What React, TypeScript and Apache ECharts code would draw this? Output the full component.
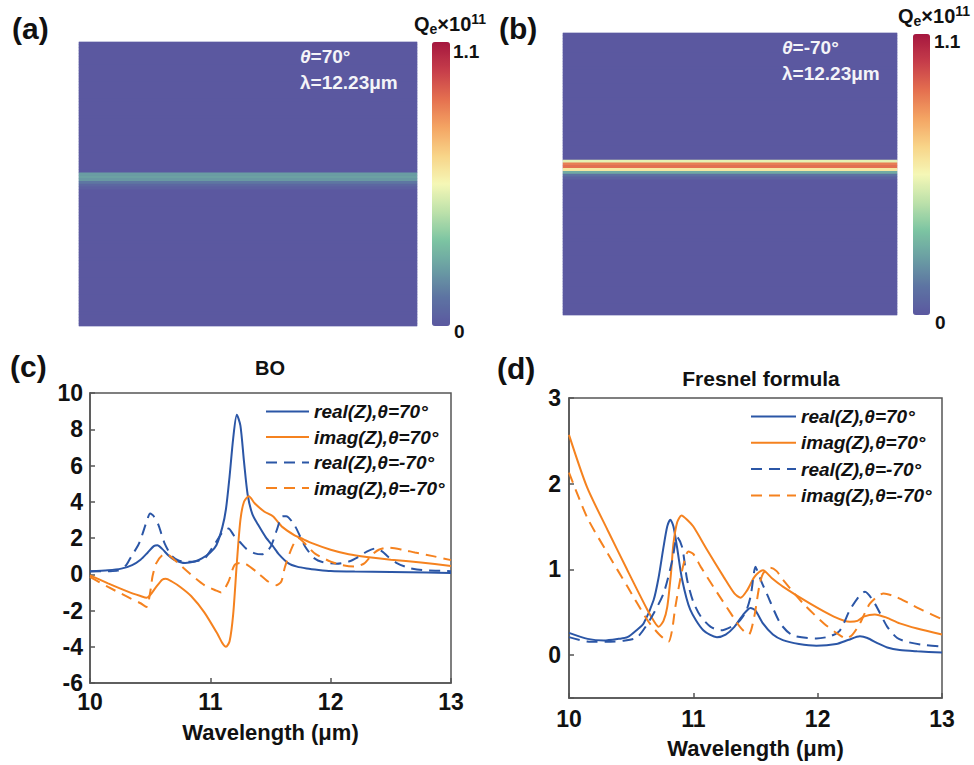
import React, { useEffect, useRef } from 'react';
import * as echarts from 'echarts';

const FONT = '"Liberation Sans", Arial, sans-serif';
const BLUE = '#2b56a6';
const ORANGE = '#f5821f';
const DASH = [11, 7];

const legendNames = ['real(Z),θ=70°', 'imag(Z),θ=70°', 'real(Z),θ=-70°', 'imag(Z),θ=-70°'];

// heatmap rows (top to bottom), value in units of 1e11
const heatRows = 100;
const bandA: number[][] = [[46, 0.22], [47, 0.23], [48, 0.21], [49, 0.12], [50, 0.06], [51, 0.03]];
const bandB: number[][] = [[45, 0.52], [46, 0.85], [47, 0.88], [48, 0.6], [49, 0.26], [50, 0.1], [51, 0.04]];
const qeMin = 0;
const qeMax = 1.1;
const colorbarColors = ['#5b58a0', '#5d73a2', '#6a9da3', '#7cc4a2', '#bce1aa', '#f5f7b6', '#f8d488', '#f4a463', '#e46f4f', '#c63d4a', '#a5173f'];

// (c) BO
const boReal70 = [[10.0,0.17],[10.15,0.22],[10.26,0.31],[10.35,0.5],[10.42,0.8],[10.48,1.2],[10.53,1.55],[10.56,1.6],[10.6,1.4],[10.65,1.05],[10.7,0.8],[10.79,0.62],[10.87,0.7],[10.93,0.87],[11.0,1.2],[11.05,1.6],[11.1,2.6],[11.13,3.6],[11.16,5.4],[11.19,7.5],[11.22,8.8],[11.25,8.2],[11.28,6.2],[11.31,4.4],[11.35,3.3],[11.4,2.7],[11.46,2.05],[11.52,1.55],[11.57,1.1],[11.65,0.6],[11.72,0.42],[11.8,0.32],[11.9,0.24],[12.0,0.18],[12.2,0.15],[12.5,0.13],[12.8,0.1],[13.0,0.07]];
const boImag70 = [[10.0,-0.06],[10.15,-0.5],[10.32,-0.97],[10.42,-1.2],[10.47,-1.3],[10.5,-1.15],[10.55,-0.7],[10.6,-0.3],[10.63,-0.25],[10.68,-0.4],[10.75,-0.7],[10.84,-1.2],[10.95,-2.1],[11.06,-3.3],[11.1,-3.8],[11.13,-4.0],[11.16,-3.7],[11.19,-2.2],[11.22,0.6],[11.25,3.0],[11.28,4.0],[11.32,4.3],[11.37,3.9],[11.45,3.45],[11.52,3.2],[11.6,2.6],[11.7,2.15],[11.75,2.0],[11.85,1.7],[12.0,1.35],[12.15,1.1],[12.3,0.95],[12.5,0.8],[12.75,0.65],[13.0,0.46]];
const boRealM70 = [[10.0,0.15],[10.15,0.17],[10.23,0.2],[10.3,0.5],[10.34,0.95],[10.4,1.6],[10.43,2.1],[10.47,2.9],[10.5,3.35],[10.53,3.2],[10.57,2.7],[10.62,1.7],[10.68,1.0],[10.74,0.75],[10.8,0.68],[10.88,0.72],[10.95,0.85],[11.04,1.7],[11.1,2.3],[11.15,2.52],[11.2,2.1],[11.25,1.75],[11.3,1.4],[11.37,1.15],[11.43,1.1],[11.5,1.5],[11.55,2.4],[11.6,3.2],[11.63,3.2],[11.7,2.7],[11.79,1.5],[11.87,0.85],[11.93,0.68],[12.05,0.58],[12.15,0.7],[12.23,0.95],[12.3,1.25],[12.37,1.42],[12.43,1.25],[12.48,0.95],[12.55,0.62],[12.65,0.35],[12.76,0.23],[13.0,0.17]];
const boImagM70 = [[10.0,-0.15],[10.15,-0.7],[10.34,-1.34],[10.42,-1.6],[10.47,-1.8],[10.5,-1.0],[10.52,-0.1],[10.55,0.6],[10.6,1.05],[10.64,1.1],[10.7,0.8],[10.81,0.15],[10.95,-0.6],[11.05,-0.9],[11.09,-1.0],[11.15,-0.42],[11.2,0.5],[11.25,0.62],[11.3,0.55],[11.4,0.05],[11.48,-0.4],[11.55,-0.6],[11.59,-0.4],[11.62,0.4],[11.68,1.5],[11.73,2.0],[11.8,1.6],[11.87,1.14],[12.0,0.7],[12.1,0.5],[12.2,0.42],[12.28,0.6],[12.34,1.05],[12.4,1.35],[12.48,1.47],[12.6,1.35],[12.7,1.2],[12.85,1.0],[13.0,0.78]];

// (d) Fresnel formula
const frReal70 = [[10.0,0.26],[10.15,0.19],[10.28,0.17],[10.4,0.19],[10.47,0.21],[10.55,0.3],[10.6,0.37],[10.68,0.64],[10.72,0.9],[10.76,1.26],[10.79,1.5],[10.815,1.58],[10.84,1.5],[10.87,1.25],[10.91,0.88],[10.975,0.53],[11.08,0.29],[11.19,0.21],[11.26,0.24],[11.33,0.33],[11.4,0.47],[11.46,0.55],[11.5,0.52],[11.56,0.37],[11.64,0.24],[11.72,0.175],[11.85,0.13],[11.99,0.11],[12.15,0.13],[12.25,0.18],[12.34,0.22],[12.4,0.2],[12.48,0.14],[12.56,0.09],[12.66,0.06],[12.8,0.045],[13.0,0.03]];
const frImag70 = [[10.0,2.57],[10.145,1.96],[10.31,1.46],[10.47,0.99],[10.63,0.53],[10.69,0.38],[10.72,0.33],[10.76,0.4],[10.79,0.56],[10.82,0.95],[10.84,1.3],[10.87,1.55],[10.905,1.63],[10.95,1.58],[11.0,1.5],[11.11,1.23],[11.245,0.91],[11.33,0.72],[11.38,0.67],[11.43,0.75],[11.49,0.91],[11.53,0.97],[11.56,0.99],[11.63,0.9],[11.72,0.8],[11.94,0.6],[12.13,0.45],[12.26,0.39],[12.32,0.4],[12.37,0.45],[12.46,0.475],[12.55,0.44],[12.66,0.37],[12.8,0.31],[13.0,0.24]];
const frRealM70 = [[10.0,0.21],[10.145,0.16],[10.3,0.155],[10.45,0.17],[10.55,0.21],[10.65,0.41],[10.76,0.72],[10.83,1.1],[10.87,1.38],[10.91,1.26],[10.95,0.88],[11.0,0.62],[11.06,0.45],[11.14,0.33],[11.22,0.29],[11.35,0.37],[11.42,0.5],[11.46,0.68],[11.5,1.03],[11.51,1.0],[11.55,0.85],[11.59,0.72],[11.7,0.37],[11.8,0.23],[11.99,0.195],[12.1,0.22],[12.18,0.29],[12.26,0.53],[12.34,0.7],[12.38,0.74],[12.46,0.6],[12.56,0.33],[12.64,0.2],[12.72,0.155],[12.85,0.12],[13.0,0.1]];
const frImagM70 = [[10.0,2.13],[10.145,1.61],[10.31,1.19],[10.47,0.8],[10.63,0.41],[10.72,0.25],[10.8,0.155],[10.83,0.3],[10.855,0.56],[10.91,0.99],[10.96,1.21],[11.0,1.18],[11.06,1.03],[11.16,0.8],[11.3,0.49],[11.38,0.32],[11.445,0.24],[11.49,0.45],[11.53,0.8],[11.56,0.95],[11.62,1.02],[11.67,0.98],[11.72,0.88],[11.885,0.6],[12.05,0.37],[12.15,0.26],[12.23,0.195],[12.28,0.24],[12.34,0.37],[12.42,0.6],[12.53,0.72],[12.63,0.68],[12.74,0.6],[12.85,0.52],[13.0,0.42]];

const heatData = (band: number[][]) => {
  const vals = new Array(heatRows).fill(qeMin);
  band.forEach(([r, v]) => { vals[r] = v; });
  return vals.map((v, i) => [0, i, v]);
};

const lineSeries = (data: number[][], name: string, color: string, dashed: boolean, idx: number) => ({
  type: 'line', name, data, xAxisIndex: idx, yAxisIndex: idx,
  symbol: 'none', showSymbol: false, smooth: 0.25,
  lineStyle: { color, width: 2, type: dashed ? DASH : 'solid' },
  itemStyle: { color },
  silent: true,
});

const axisText = { color: '#111', fontSize: 23, fontWeight: 'bold', fontFamily: FONT };

const txt = (text: string, x: number, y: number, size: number, opts: any = {}) => ({
  type: 'text', x, y, z: 100, silent: true,
  style: { text, fontSize: size, fontWeight: 'bold', fontFamily: FONT, fill: '#111', align: 'left', verticalAlign: 'middle', ...opts },
});

const qeLabel = (x: number, y: number) => ({
  type: 'text', x, y, z: 100, silent: true,
  style: {
    text: '{a|Q}{s|e}{a|×10}{p|11}', fill: '#111', fontFamily: FONT, fontWeight: 'bold',
    rich: {
      a: { fontSize: 20, fontWeight: 'bold', fontFamily: FONT, lineHeight: 24, verticalAlign: 'middle' },
      s: { fontSize: 14, fontWeight: 'bold', fontFamily: FONT, lineHeight: 14, verticalAlign: 'bottom' },
      p: { fontSize: 14, fontWeight: 'bold', fontFamily: FONT, lineHeight: 14, verticalAlign: 'top' },
    },
  },
});

const WHITE = '#f4f4f8';
const thetaText = (text: string, x: number, y: number) => ({
  type: 'text', x, y, z: 100, silent: true,
  style: {
    text, fill: WHITE, fontFamily: FONT, fontWeight: 'bold', fontSize: 19, verticalAlign: 'middle',
    rich: {
      i: { fontStyle: 'italic', fontWeight: 'bold', fontSize: 19, fontFamily: FONT, fill: WHITE, color: WHITE },
      n: { fontWeight: 'bold', fontSize: 19, fontFamily: FONT, fill: WHITE, color: WHITE },
    },
  },
});

export default function App() {
  const ref = useRef<HTMLDivElement>(null);
  useEffect(() => {
    if (!ref.current) return;
    const chart = echarts.init(ref.current, undefined, { renderer: 'svg' });
    const rowCats = Array.from({ length: heatRows }, (_, i) => String(i));
    const heatX = (g: number) => ({ gridIndex: g, type: 'category', data: ['0'], show: false });
    const heatY = (g: number) => ({ gridIndex: g, type: 'category', data: rowCats, inverse: true, show: false });
    const lineX = (g: number, gap: number, margin: number) => ({
      gridIndex: g, type: 'value', min: 10, max: 13, interval: 1,
      axisLine: { show: true, onZero: false, lineStyle: { color: '#555', width: 1.5 } },
      axisTick: { show: true, inside: true, length: 5, lineStyle: { color: '#555', width: 1.5 } },
      splitLine: { show: false },
      axisLabel: { ...axisText, margin },
      name: 'Wavelength (μm)', nameLocation: 'middle', nameGap: gap,
      nameTextStyle: { color: '#111', fontSize: 22, fontWeight: 'bold', fontFamily: FONT },
    });
    const lineY = (g: number, extra: any, margin: number) => ({
      gridIndex: g, type: 'value', ...extra,
      axisLine: { show: true, onZero: false, lineStyle: { color: '#555', width: 1.5 } },
      axisTick: { show: true, inside: true, length: 5, lineStyle: { color: '#555', width: 1.5 } },
      splitLine: { show: false },
      axisLabel: { ...axisText, margin, formatter: (v: number) => (Number.isInteger(v) ? String(v) : '') },
    });
    const legend = (left: number, top: number, w: number, gap: number) => ({
      data: legendNames, orient: 'vertical', left, top, padding: 0,
      itemWidth: w, itemHeight: 16, itemGap: gap, selectedMode: false,
      itemStyle: { opacity: 0 },
      textStyle: { color: '#111', fontSize: 19, fontStyle: 'italic', fontWeight: 'bold', fontFamily: FONT, lineHeight: 19 },
    });

    chart.setOption({
      animation: false,
      backgroundColor: '#ffffff',
      grid: [
        { left: 79, top: 42, width: 338, height: 284, show: true, backgroundColor: '#5b58a0', borderColor: '#d3d6ea', borderWidth: 1 },
        { left: 563, top: 33, width: 334, height: 282, show: true, backgroundColor: '#5b58a0', borderColor: '#d3d6ea', borderWidth: 1 },
        { left: 90, top: 393, width: 361, height: 290, show: true, borderColor: '#555', borderWidth: 1.5 },
        { left: 569, top: 398, width: 373, height: 300, show: true, borderColor: '#555', borderWidth: 1.5 },
      ],
      xAxis: [heatX(0), heatX(1), lineX(2, 38, 7), lineX(3, 39, 9)],
      yAxis: [
        heatY(0), heatY(1),
        lineY(2, { min: -6, max: 10, interval: 2 }, 7),
        lineY(3, { min: -0.5, max: 3, splitNumber: 4 }, 8),
      ],
      visualMap: [
        { type: 'continuous', seriesIndex: 0, min: qeMin, max: qeMax, left: 432, top: 42, itemWidth: 18, itemHeight: 284, padding: 0, calculable: false, hoverLink: false, inRange: { color: colorbarColors } },
        { type: 'continuous', seriesIndex: 1, min: qeMin, max: qeMax, left: 913, top: 34, itemWidth: 17, itemHeight: 281, padding: 0, calculable: false, hoverLink: false, inRange: { color: colorbarColors } },
      ],
      legend: [legend(265, 402, 43, 6.5), legend(750, 407, 45, 7.3)],
      series: [
        { type: 'heatmap', xAxisIndex: 0, yAxisIndex: 0, data: heatData(bandA), silent: true, emphasis: { disabled: true } },
        { type: 'heatmap', xAxisIndex: 1, yAxisIndex: 1, data: heatData(bandB), silent: true, emphasis: { disabled: true } },
        lineSeries(boReal70, legendNames[0], BLUE, false, 2),
        lineSeries(boImag70, legendNames[1], ORANGE, false, 2),
        lineSeries(boRealM70, legendNames[2], BLUE, true, 2),
        lineSeries(boImagM70, legendNames[3], ORANGE, true, 2),
        lineSeries(frReal70, legendNames[0], BLUE, false, 3),
        lineSeries(frImag70, legendNames[1], ORANGE, false, 3),
        lineSeries(frRealM70, legendNames[2], BLUE, true, 3),
        lineSeries(frImagM70, legendNames[3], ORANGE, true, 3),
      ],
      graphic: [
        txt('(a)', 12, 28, 30),
        txt('(b)', 499, 28, 30),
        txt('(c)', 10, 366, 30),
        txt('(d)', 497, 368, 30),
        txt('BO', 270, 368, 20, { align: 'center' }),
        txt('Fresnel formula', 761, 378, 21, { align: 'center' }),
        qeLabel(414, 12),
        qeLabel(898, 4),
        txt(String(qeMax), 453, 51, 19),
        txt(String(qeMin), 454, 331, 19),
        txt(String(qeMax), 934, 41, 19),
        txt(String(qeMin), 935, 322, 19),
        thetaText('{i|θ}{n|=70°}', 300, 56),
        thetaText('{n|λ=12.23μm}', 300, 82),
        thetaText('{i|θ}{n|=-70°}', 782, 47),
        thetaText('{n|λ=12.23μm}', 782, 73),
      ],
    });
    return () => chart.dispose();
  }, []);
  return <div ref={ref} style={{ position: 'absolute', left: 0, top: 0, width: 974, height: 765 }} />;
}
